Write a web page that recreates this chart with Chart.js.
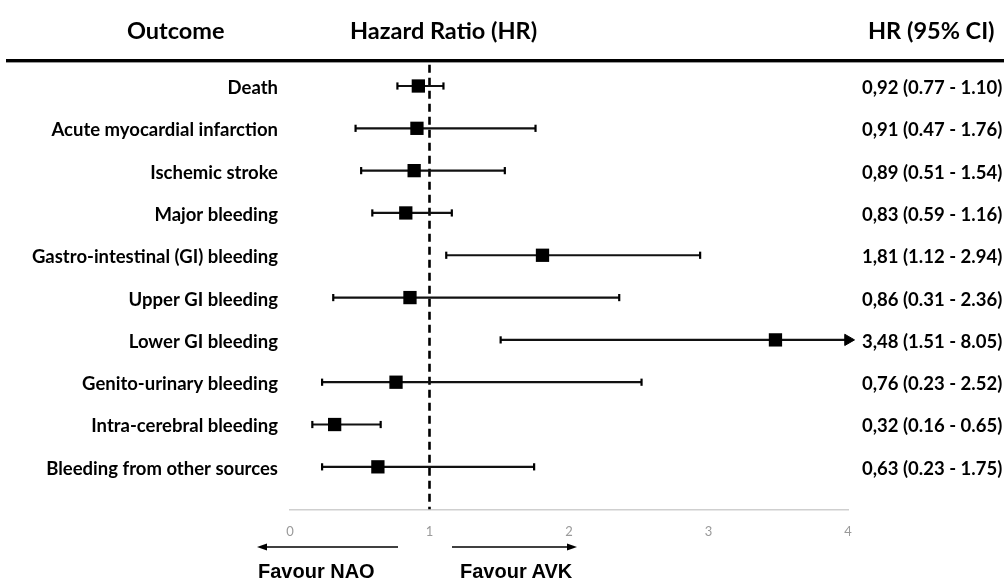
<!DOCTYPE html>
<html>
<head>
<meta charset="utf-8">
<script src="https://cdn.jsdelivr.net/npm/chart.js@4.4.1/dist/chart.umd.min.js"></script>
<style>
  html, body { margin:0; padding:0; background:#fff; }
  #wrap { position:relative; width:1004px; height:579px; overflow:hidden; font-family: Lato, "Open Sans", sans-serif; }
  #c { position:absolute; left:0; top:0; }
  .hdr { position:absolute; top:16px; font-weight:700; font-size:23.5px; color:#000; white-space:nowrap; line-height:28px; }
  #rule { position:absolute; left:6px; right:0; top:59px; height:3px; background:#000; box-shadow:0 1px 0 #9a9a9a; }
  .fav { position:absolute; top:560px; font-family:"Liberation Sans", Arial, sans-serif; font-weight:700; font-size:20px; color:#000; white-space:nowrap; line-height:22px; }
  svg { position:absolute; left:0; top:0; }
</style>
</head>
<body>
<div id="wrap">
  <canvas id="c" width="1004" height="579"></canvas>
  <div class="hdr" style="left:127px;">Outcome</div>
  <div class="hdr" style="left:350px;">Hazard Ratio (HR)</div>
  <div class="hdr" style="left:868px;">HR (95% CI)</div>
  <div id="rule"></div>
  <svg width="1004" height="579">
    <line x1="266" y1="547" x2="398" y2="547" stroke="#000" stroke-width="1.5"/>
    <polygon points="257,547 267,543.5 267,550.5" fill="#000"/>
    <line x1="452" y1="547" x2="568" y2="547" stroke="#000" stroke-width="1.5"/>
    <polygon points="577,547 567,543.5 567,550.5" fill="#000"/>
  </svg>
  <div class="fav" style="left:258px;">Favour NAO</div>
  <div class="fav" style="left:460px;">Favour AVK</div>
</div>
<script>
const outcomes = [
  "Death",
  "Acute myocardial infarction",
  "Ischemic stroke",
  "Major bleeding",
  "Gastro-intestinal (GI) bleeding",
  "Upper GI bleeding",
  "Lower GI bleeding",
  "Genito-urinary bleeding",
  "Intra-cerebral bleeding",
  "Bleeding from other sources"
];
const hr     = [0.92, 0.91, 0.89, 0.83, 1.81, 0.86, 3.48, 0.76, 0.32, 0.63];
const ciLow  = [0.77, 0.47, 0.51, 0.59, 1.12, 0.31, 1.51, 0.23, 0.16, 0.23];
const ciHigh = [1.10, 1.76, 1.54, 1.16, 2.94, 2.36, 8.05, 2.52, 0.65, 1.75];
const xTicks = [0, 1, 2, 3, 4];
const refValue = 1;

const X_MIN = xTicks[0], X_MAX = xTicks[xTicks.length - 1];
const ciText = hr.map((v, i) =>
  v.toFixed(2).replace('.', ',') + ' (' + ciLow[i].toFixed(2) + ' - ' + ciHigh[i].toFixed(2) + ')');

const rowFont = { family: 'Lato', weight: '700', size: 18.5 };

const datasets = [];
// HR squares (on top)
datasets.push({
  type: 'scatter',
  data: hr.map((v, i) => ({ x: v, y: i + 1 })),
  pointStyle: 'rect',
  pointRadius: 9.4,
  pointHoverRadius: 9.4,
  backgroundColor: '#000',
  borderColor: '#000',
  borderWidth: 0,
  order: 0
});
// CI lines with caps / arrow
outcomes.forEach((o, i) => {
  const clipped = ciHigh[i] > X_MAX;
  datasets.push({
    type: 'line',
    data: [{ x: ciLow[i], y: i + 1 }, { x: Math.min(ciHigh[i], X_MAX), y: i + 1 }],
    borderColor: '#111',
    borderWidth: 2.2,
    backgroundColor: '#000',
    pointStyle: ['line', clipped ? 'triangle' : 'line'],
    pointRotation: 90,
    pointRadius: [3.6, clipped ? 6.5 : 3.6],
    pointHoverRadius: [3.6, clipped ? 6.5 : 3.6],
    pointBorderWidth: [2.2, clipped ? 1 : 2.2],
    pointBorderColor: '#000',
    pointBackgroundColor: '#000',
    clip: false,
    order: 1
  });
});
// reference line
datasets.push({
  type: 'line',
  data: [{ x: refValue, y: 0.5 }, { x: refValue, y: 11 }],
  borderColor: '#000',
  borderWidth: 2.6,
  borderDash: [8, 5],
  pointRadius: 0,
  order: 2
});

const rowTicks = (axis) => { axis.ticks = outcomes.map((o, i) => ({ value: i + 1 })); };

new Chart(document.getElementById('c'), {
  data: { datasets },
  options: {
    responsive: false,
    animation: false,
    events: [],
    layout: { padding: { top: 64, left: 0, right: 0, bottom: 0 } },
    plugins: { legend: { display: false }, tooltip: { enabled: false } },
    scales: {
      x: {
        type: 'linear', min: X_MIN, max: X_MAX,
        afterBuildTicks: (axis) => { axis.ticks = xTicks.map(v => ({ value: v })); },
        ticks: { color: '#9a9a9a', font: { family: 'Lato', size: 13 }, padding: 14 },
        grid: { display: true, drawOnChartArea: false, drawTicks: false },
        border: { display: true, color: '#cfcfcf', width: 1.6 },
        afterFit: (axis) => { axis.height = 69; }
      },
      y: {
        type: 'linear', position: 'left', reverse: true, min: 0.48, max: 11.02,
        afterBuildTicks: rowTicks,
        ticks: { color: '#000', font: rowFont, padding: 12, autoSkip: false, labelOffset: 2,
          callback: (v) => outcomes[Math.round(v) - 1] },
        grid: { display: false, drawTicks: false },
        border: { display: false },
        afterFit: (axis) => { axis.width = 290; }
      },
      y2: {
        type: 'linear', position: 'right', reverse: true, min: 0.48, max: 11.02,
        afterBuildTicks: rowTicks,
        ticks: { color: '#000', font: rowFont, padding: 14, autoSkip: false, labelOffset: 2,
          callback: (v) => ciText[Math.round(v) - 1] },
        grid: { display: false, drawTicks: false },
        border: { display: false },
        afterFit: (axis) => { axis.width = 156; }
      }
    }
  }
});
</script>
</body>
</html>
